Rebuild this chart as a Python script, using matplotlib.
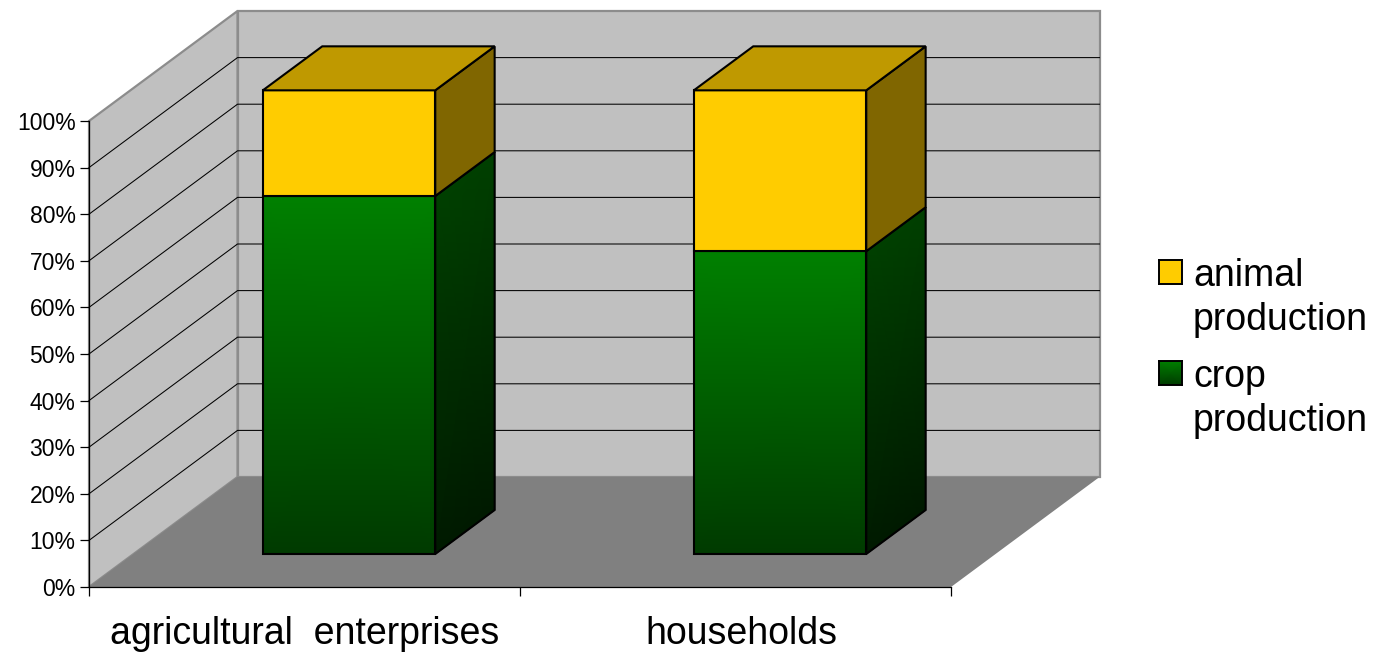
import matplotlib
matplotlib.use('Agg')
import matplotlib.pyplot as plt
import numpy as np
from matplotlib.colors import LinearSegmentedColormap
from matplotlib.patches import Polygon

plt.rcParams['font.family'] = ['Liberation Sans', 'DejaVu Sans']

categories = ['agricultural  enterprises', 'households']
crop_production = [77.2, 65.3]
animal_production = [22.8, 34.7]
percent_ticks = list(range(0, 101, 10))
legend_labels = ['animal\nproduction', 'crop\nproduction']

W, H = 1382, 653
DPI = 100

# oblique projection of the depth axis, in data units
DEPTH_X = 148.5 / 431
DEPTH_Y = 110 / 4.66
BAR_WIDTH = 0.4
BAR_NEAR, BAR_FAR = 0.3, 0.7
BAR_SCALE = 0.995

WALL = '#C0C0C0'
FLOOR = '#808080'
EDGE = '#8C8C8C'
YELLOW = '#FFCC00'
YELLOW_TOP = '#BF9900'
YELLOW_SIDE = '#806600'

front_cmap = LinearSegmentedColormap.from_list('front', ['#003A00', '#008000'])
side_cmap = LinearSegmentedColormap.from_list('side', ['#001A00', '#004000'])


def proj(x, v, d):
    return x + d * DEPTH_X, v + d * DEPTH_Y


def face(ax, pts, color, z, lw=1.5):
    ax.add_patch(Polygon(pts, closed=True, facecolor=color, edgecolor='black',
                         linewidth=lw, joinstyle='miter', clip_on=False, zorder=z))


def gradient_face(ax, pts, cmap, z):
    # pts run bottom-left, bottom-right, top-right, top-left
    xs = np.array([[pts[0][0], pts[1][0]], [pts[3][0], pts[2][0]]])
    ys = np.array([[pts[0][1], pts[1][1]], [pts[3][1], pts[2][1]]])
    c = np.array([[0.0, 0.0], [1.0, 1.0]])
    ax.pcolormesh(xs, ys, c, shading='gouraud', cmap=cmap, vmin=0, vmax=1,
                  clip_on=False, zorder=z)
    ax.add_patch(Polygon(pts, closed=True, facecolor='none', edgecolor='black',
                         linewidth=1.5, joinstyle='miter', clip_on=False, zorder=z + 0.1))


def draw_bar(ax, i, crop, animal):
    left = i + 0.5 - BAR_WIDTH / 2
    right = i + 0.5 + BAR_WIDTH / 2
    mid = crop * BAR_SCALE
    top = (crop + animal) * BAR_SCALE
    z = 5 + i

    def box(v0, v1):
        front = [proj(left, v0, BAR_NEAR), proj(right, v0, BAR_NEAR),
                 proj(right, v1, BAR_NEAR), proj(left, v1, BAR_NEAR)]
        side = [proj(right, v0, BAR_NEAR), proj(right, v0, BAR_FAR),
                proj(right, v1, BAR_FAR), proj(right, v1, BAR_NEAR)]
        return front, side

    front, side = box(0, mid)
    gradient_face(ax, front, front_cmap, z)
    gradient_face(ax, side, side_cmap, z)

    front, side = box(mid, top)
    face(ax, side, YELLOW_SIDE, z + 0.2)
    face(ax, front, YELLOW, z + 0.2)
    lid = [proj(left, top, BAR_NEAR), proj(right, top, BAR_NEAR),
           proj(right, top, BAR_FAR), proj(left, top, BAR_FAR)]
    face(ax, lid, YELLOW_TOP, z + 0.2)


fig = plt.figure(figsize=(W / DPI, H / DPI), dpi=DPI)
ax = fig.add_axes([89 / W, 1 - 587 / H, 862 / W, 466 / H])
ax.patch.set_visible(False)

n = len(categories)

# walls and floor
back = [proj(0, 0, 1), proj(n, 0, 1), proj(n, 100, 1), proj(0, 100, 1)]
ax.add_patch(Polygon(back, closed=True, facecolor=WALL, edgecolor=EDGE,
                     linewidth=1.6, clip_on=False, zorder=1))
side_wall = [proj(0, 0, 0), proj(0, 0, 1), proj(0, 100, 1), proj(0, 100, 0)]
ax.add_patch(Polygon(side_wall, closed=True, facecolor=WALL, edgecolor=EDGE,
                     linewidth=1.6, clip_on=False, zorder=1))
floor = [proj(0, 0, 0), proj(n, 0, 0), proj(n, 0, 1), proj(0, 0, 1)]
ax.add_patch(Polygon(floor, closed=True, facecolor=FLOOR, edgecolor='none',
                     clip_on=False, zorder=2))

# gridlines run along the side wall and across the back wall
for v in percent_ticks[1:-1]:
    x0, y0 = proj(0, v, 0)
    x1, y1 = proj(0, v, 1)
    x2, y2 = proj(n, v, 1)
    ax.plot([x0, x1, x2], [y0, y1, y2], color='black', lw=0.75,
            solid_joinstyle='miter', clip_on=False, zorder=3)

for i in range(n):
    draw_bar(ax, i, crop_production[i], animal_production[i])

ax.set_xlim(0, n)
ax.set_ylim(0, 100)
for name in ['top', 'right']:
    ax.spines[name].set_visible(False)
for name in ['left', 'bottom']:
    ax.spines[name].set_linewidth(0.9)
    ax.spines[name].set_zorder(20)
ax.set_xticks(range(n + 1))
ax.set_xticklabels([])
ax.set_yticks(percent_ticks)
ax.set_yticklabels([f'{v}%' for v in percent_ticks], fontsize=16.5)
ax.tick_params(axis='both', length=6.5, width=0.9, pad=3.2)

label_shift = [0, 6]
for i, name in enumerate(categories):
    ax.annotate(name, xy=(i + 0.5, 0), xytext=(label_shift[i] * 0.72, -33.5),
                textcoords='offset points', ha='center', va='center',
                fontsize=27, annotation_clip=False)

# legend swatches and labels
swatch_tops = [260, 361]
for top, label, kind in zip(swatch_tops, legend_labels, ['animal', 'crop']):
    sw = fig.add_axes([1158.5 / W, 1 - (top + 24) / H, 23.5 / W, 24 / H])
    if kind == 'animal':
        sw.set_facecolor(YELLOW)
    else:
        sw.pcolormesh([0, 1], [0, 1], [[0.0, 0.0], [1.0, 1.0]], shading='gouraud',
                      cmap=front_cmap, vmin=0, vmax=1)
    sw.set_xticks([])
    sw.set_yticks([])
    for s in sw.spines.values():
        s.set_linewidth(1.4)
    fig.text(1193 / W, 1 - (top - 2) / H, label, fontsize=27, va='top', ha='left',
             linespacing=1.28)

fig.savefig('out.png', dpi=DPI)
